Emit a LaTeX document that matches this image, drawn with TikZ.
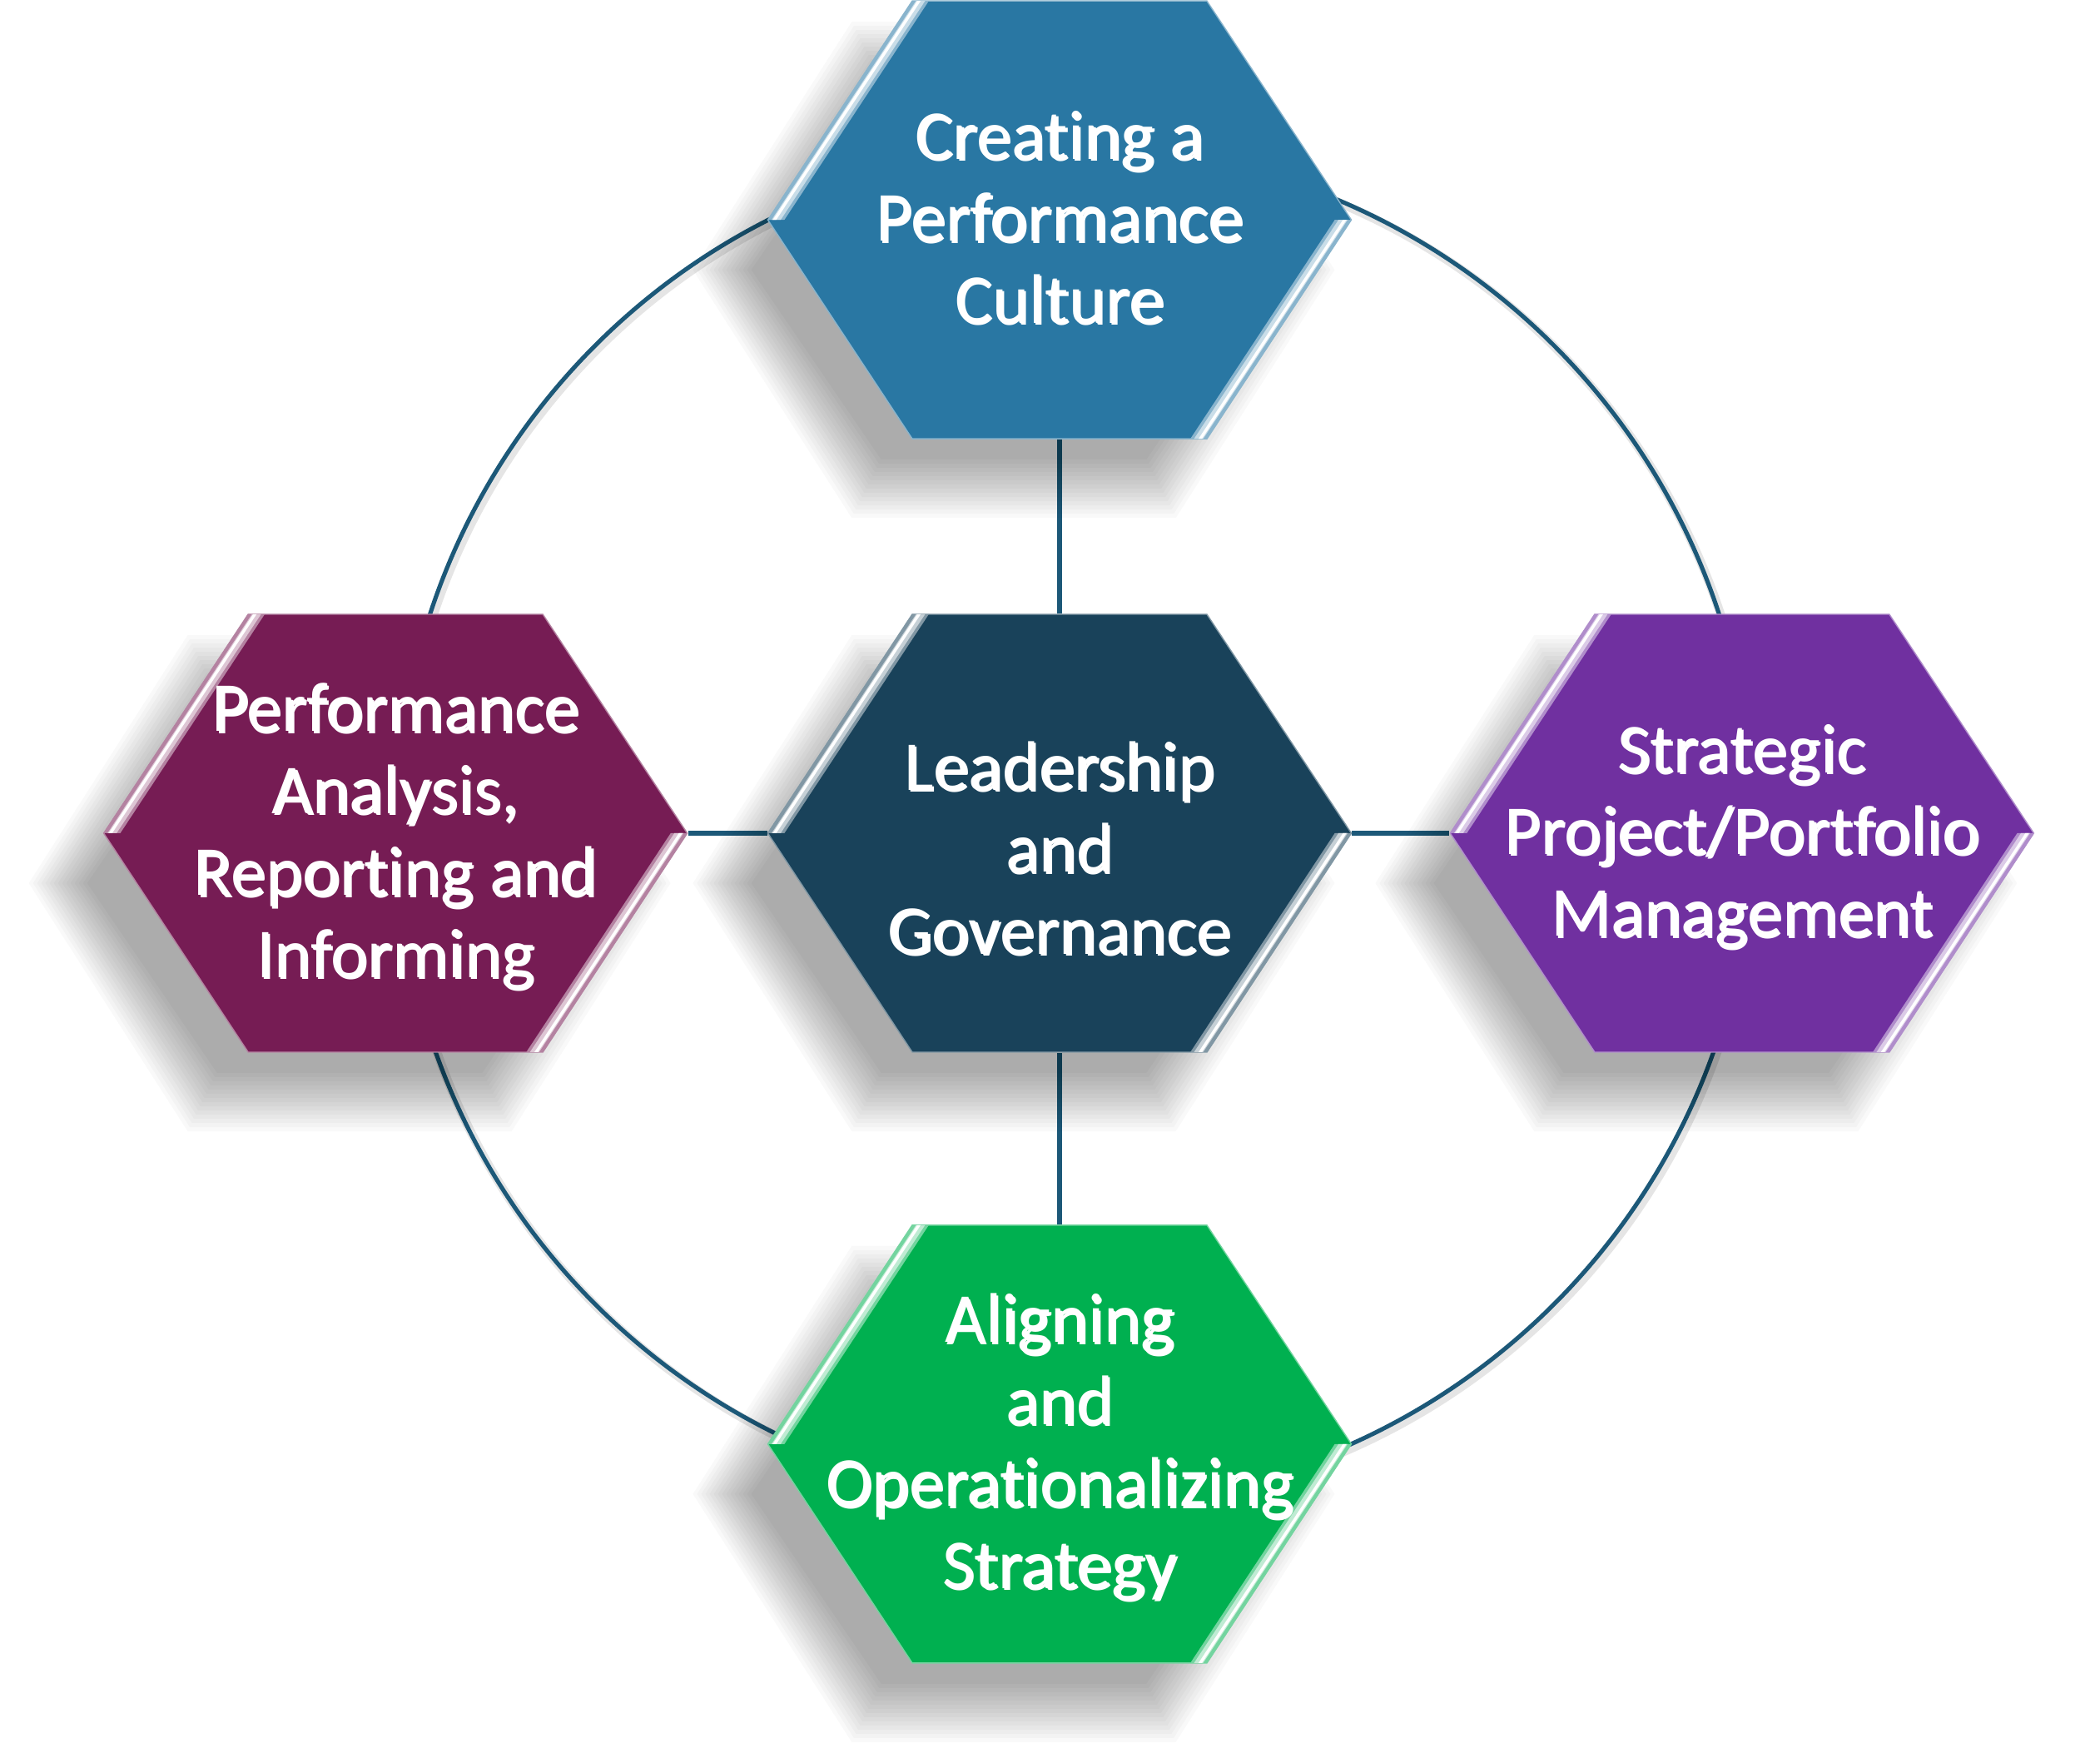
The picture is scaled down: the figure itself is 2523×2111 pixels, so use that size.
\documentclass[tikz,border=0pt]{standalone}
\usepackage{fontspec}
\setmainfont{Carlito}[Ligatures=NoCommon]
\usetikzlibrary{positioning,calc}

\definecolor{cTop}{RGB}{41,119,163}
\definecolor{cLead}{RGB}{25,66,90}
\definecolor{cLeft}{RGB}{118,28,84}
\definecolor{cRight}{RGB}{112,48,160}
\definecolor{cBottom}{RGB}{0,176,80}
\definecolor{cLink}{RGB}{28,88,120}
\colorlet{textshade}{black}

\pgfdeclarelayer{lines}
\pgfdeclarelayer{shade}
\pgfdeclarelayer{hexes}
\pgfsetlayers{lines,shade,hexes,main}

\newcommand{\hexagonpath}{(-350.5,0) -- (-177,263) -- (177,263) -- (350.5,0) -- (177,-263) -- (-177,-263) -- cycle}

% white text with a darker offset copy behind it
\newsavebox{\hexbox}
\newcommand{\hextext}[2][-2pt]{%
  \sbox{\hexbox}{\begin{tabular}{@{}c@{}}#2\end{tabular}}%
  \raisebox{#1}[\height][\depth]{\rlap{\hspace{0.7pt}\raisebox{-0.7pt}{\color{textshade}\usebox{\hexbox}}}\usebox{\hexbox}}}

\begin{document}
\begin{tikzpicture}[x=0.01cm, y=0.01cm,
  hexnode/.style={minimum width=7.01cm, minimum height=5.26cm, inner sep=0pt,
    text=white, font=\fontsize{24}{28}\selectfont,
    execute at begin node={\colorlet{textshade}{#1!55!black}}},
  link/.style={draw=cLink, line width=1.45pt}]

% Canvas
\begin{pgfonlayer}{lines}
  \fill[white] (0,0) rectangle (2523,2111);
\end{pgfonlayer}
\useasboundingbox (0,0) rectangle (2523,2111);

% Hexagons
\node[hexnode=cLead] (lead) at (1273,1110) {\hextext[-8pt]{Leadership\\and\\Governance}};
\node[hexnode=cTop, above=2.09cm of lead] (culture) {\hextext{Creating a\\Performance\\Culture}};
\node[hexnode=cLeft, left=0.95cm of lead] (analysis) {\hextext{Performance\\Analysis,\\Reporting and\\Informing}};
\node[hexnode=cRight, right=1.17cm of lead] (portfolio) {\hextext{Strategic\\Project/Portfolio\\Management}};
\node[hexnode=cBottom, below=2.06cm of lead] (strategy) {\hextext{Aligning\\and\\Operationalizing\\Strategy}};

\foreach \n/\c in {lead/cLead, culture/cTop, analysis/cLeft, portfolio/cRight, strategy/cBottom} {
  % soft shadow
  \begin{pgfonlayer}{shade}
    \foreach \e in {-35,-30,...,35} {
      \pgfmathsetmacro{\sx}{(350.5+\e)/350.5}
      \pgfmathsetmacro{\sy}{(263+\e)/263}
      \fill[black, opacity=0.023, shift={(\n.center)}, xshift=-0.55cm, yshift=-0.6cm, xscale=\sx, yscale=\sy] \hexagonpath;
    }
  \end{pgfonlayer}
  % body and bevel
  \begin{pgfonlayer}{hexes}
    \begin{scope}[shift={(\n.center)}]
      \filldraw[fill=\c, draw=\c!55!white, line width=0.4pt] \hexagonpath;
      \begin{scope}
        \clip (-350.5,0) -- (-177,263) -- (0,263) -- (0,0) -- cycle;
        \draw[\c!55!white, line width=4.7pt] (-345.8,-8) -- (-151.2,287);
        \draw[\c!25!white, line width=2.6pt] (-345.8,-8) -- (-151.2,287);
        \draw[white, line width=1pt] (-347.8,-8) -- (-153.2,287);
      \end{scope}
      \begin{scope}
        \clip (350.5,0) -- (177,-263) -- (0,-263) -- (0,0) -- cycle;
        \draw[\c!55!white, line width=4.7pt] (345.8,8) -- (151.2,-287);
        \draw[\c!25!white, line width=2.6pt] (345.8,8) -- (151.2,-287);
        \draw[white, line width=1pt] (347.8,8) -- (153.2,-287);
      \end{scope}
    \end{scope}
  \end{pgfonlayer}
}

% Ring and spokes
\coordinate (ring) at (1291,1120);
\begin{pgfonlayer}{lines}
  \draw[black, opacity=0.1, line width=3pt] ([xshift=0.03cm, yshift=-0.04cm]ring) circle[radius=8.14cm];
  \draw[link] (ring) circle[radius=8.14cm];
  \draw[link] (culture) -- (lead);
  \draw[link] (lead) -- (strategy);
  \draw[link] (analysis) -- (lead);
  \draw[link] (lead) -- (portfolio);
\end{pgfonlayer}
\end{tikzpicture}
\end{document}
